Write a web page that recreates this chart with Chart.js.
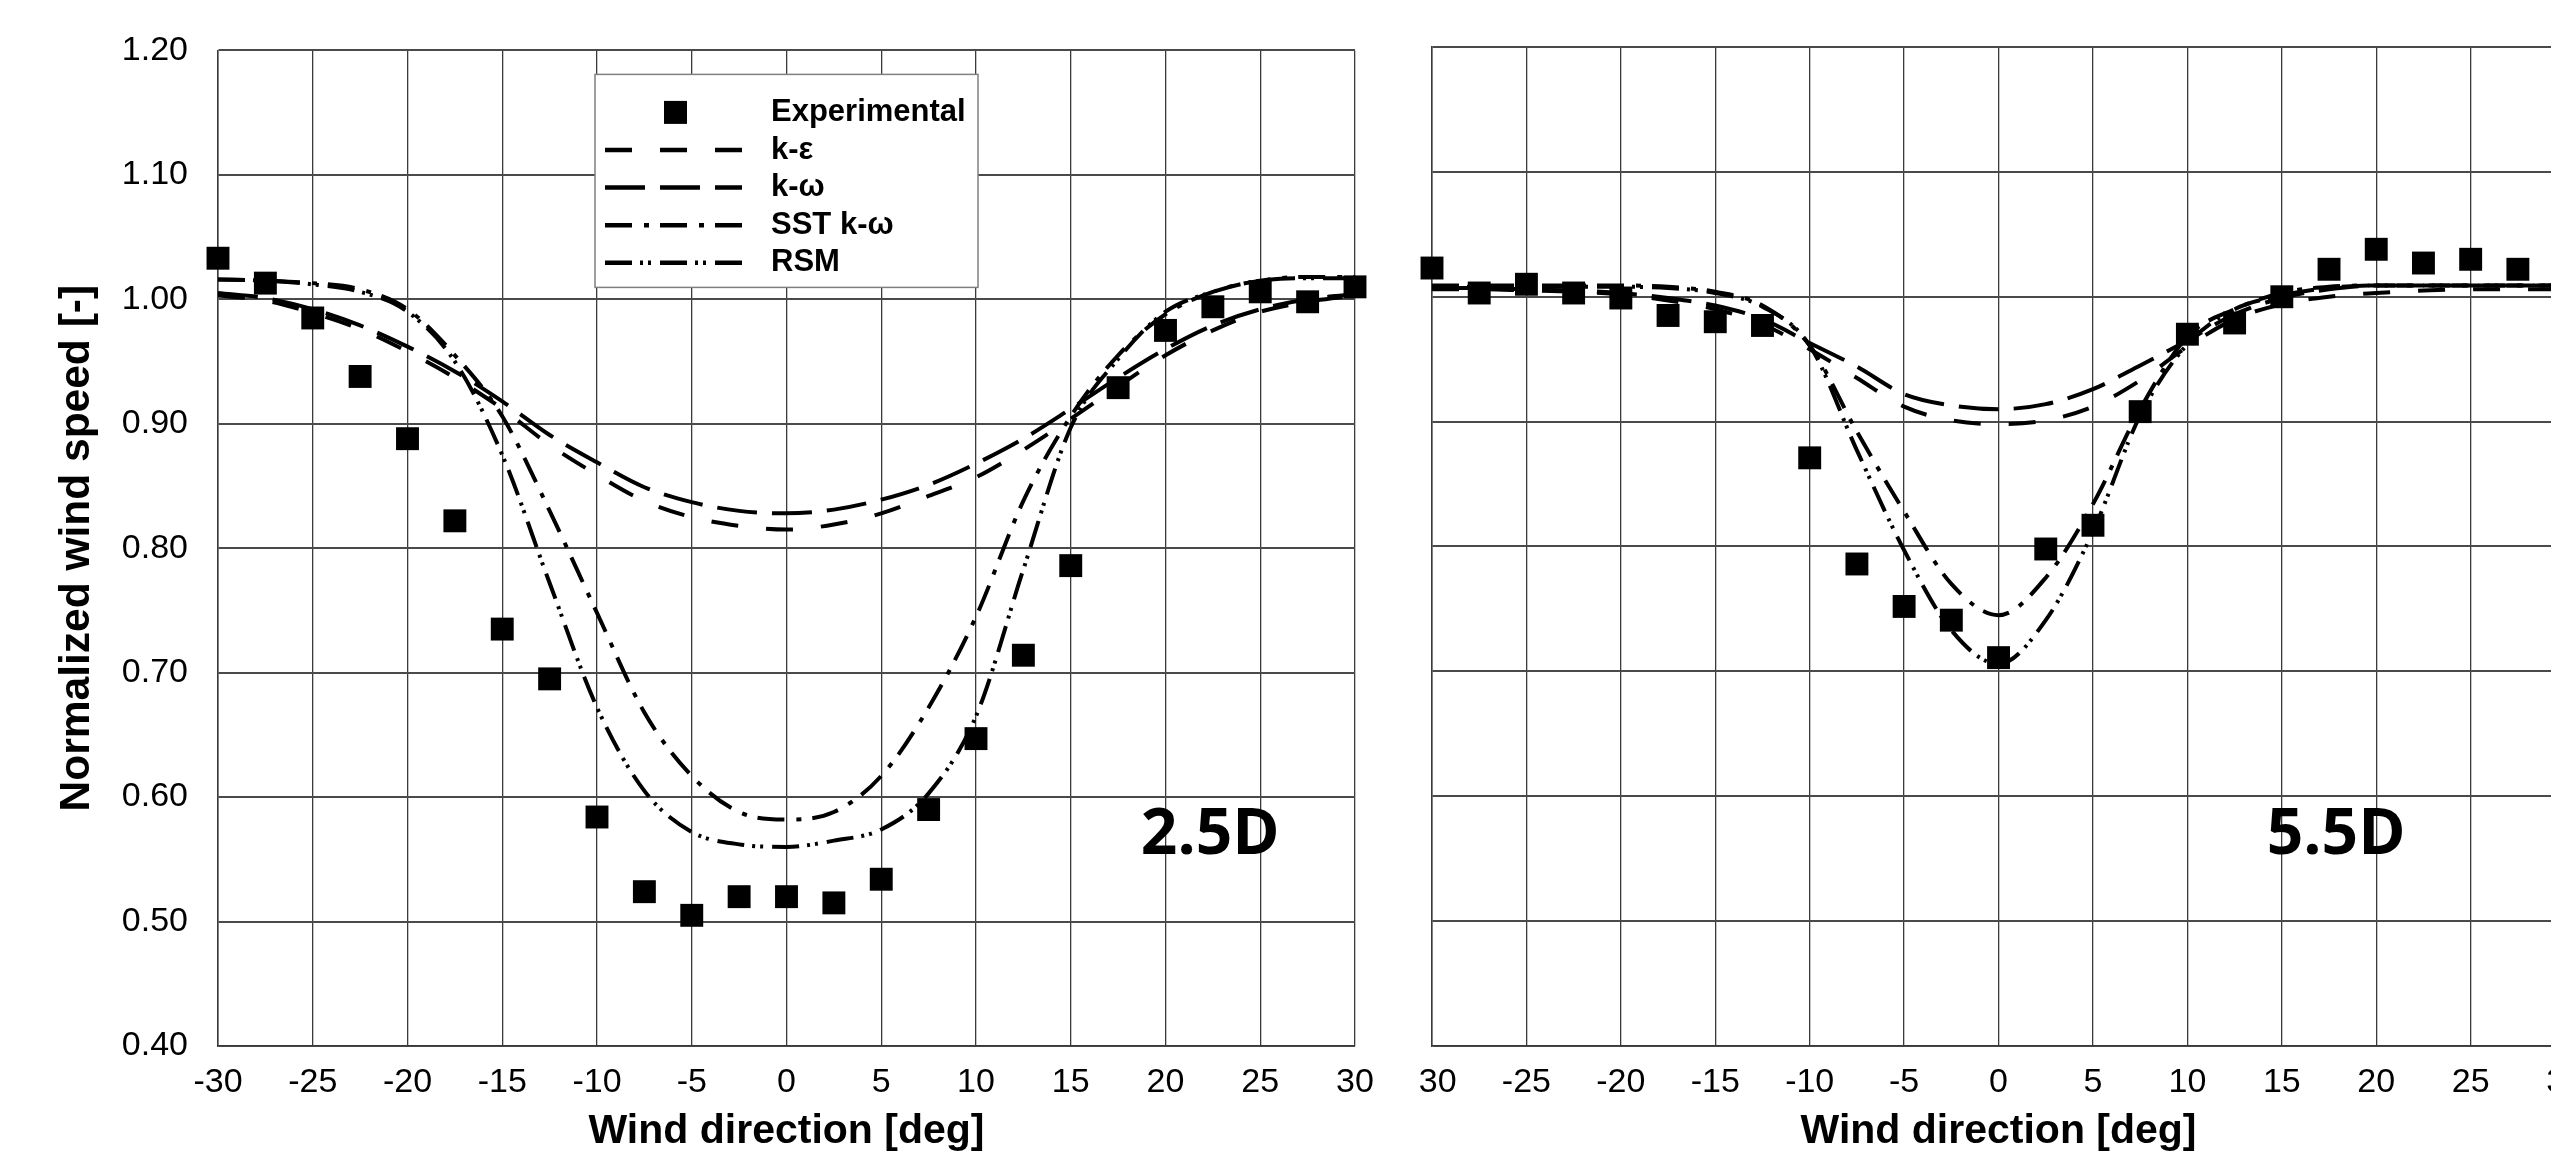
<!DOCTYPE html>
<html>
<head>
<meta charset="utf-8">
<script src="https://cdn.jsdelivr.net/npm/chart.js@4.4.0/dist/chart.umd.min.js"></script>
<style>
  html, body { margin: 0; padding: 0; background: #fff; overflow: hidden; }
  #wrap { position: relative; width: 2551px; height: 1156px; overflow: hidden; }
  #chartRight { position: absolute; left: 1300px; top: 0; }
  #chartLeft { position: absolute; left: 0; top: 0; z-index: 2; }
</style>
</head>
<body>
<div id="wrap">
  <canvas id="chartRight" width="1300" height="1156"></canvas>
  <canvas id="chartLeft" width="1419" height="1156"></canvas>
</div>
<script>
// wind direction [deg]
const angles = [-30, -27.5, -25, -22.5, -20, -17.5, -15, -12.5, -10, -7.5, -5, -2.5, 0,
                2.5, 5, 7.5, 10, 12.5, 15, 17.5, 20, 22.5, 25, 27.5, 30];
const xTicks = [-30, -25, -20, -15, -10, -5, 0, 5, 10, 15, 20, 25, 30];
const yTicks = [0.4, 0.5, 0.6, 0.7, 0.8, 0.9, 1.0, 1.1, 1.2];

// 2.5D downstream
const exp25    = [1.033, 1.013, 0.985, 0.938, 0.888, 0.822, 0.735, 0.695, 0.584, 0.524, 0.505, 0.520, 0.520,
                  0.515, 0.534, 0.590, 0.647, 0.714, 0.786, 0.929, 0.975, 0.994, 1.006, 0.998, 1.010];
const kEps25   = [1.003, 0.999, 0.989, 0.976, 0.958, 0.937, 0.912, 0.883, 0.859, 0.838, 0.825, 0.818, 0.815,
                  0.819, 0.828, 0.842, 0.857, 0.879, 0.904, 0.930, 0.955, 0.975, 0.990, 0.998, 1.003];
const kOmega25 = [1.005, 1.001, 0.992, 0.979, 0.962, 0.942, 0.918, 0.891, 0.869, 0.849, 0.837, 0.830, 0.828,
                  0.831, 0.839, 0.851, 0.868, 0.888, 0.912, 0.937, 0.960, 0.979, 0.992, 1.000, 1.004];
const sst25    = [1.016, 1.015, 1.013, 1.008, 0.992, 0.955, 0.906, 0.830, 0.748, 0.668, 0.617, 0.588, 0.582,
                  0.588, 0.617, 0.672, 0.745, 0.838, 0.906, 0.955, 0.988, 1.006, 1.015, 1.018, 1.018];
const rsm25    = [1.016, 1.015, 1.012, 1.006, 0.990, 0.950, 0.875, 0.772, 0.672, 0.605, 0.572, 0.562, 0.560,
                  0.565, 0.574, 0.603, 0.665, 0.783, 0.897, 0.952, 0.990, 1.006, 1.015, 1.017, 1.017];

// 5.5D downstream
const exp55    = [1.023, 1.003, 1.010, 1.003, 0.999, 0.985, 0.980, 0.977, 0.871, 0.786, 0.752, 0.741, 0.711,
                  0.798, 0.817, 0.908, 0.970, 0.979, 1.000, 1.022, 1.038, 1.027, 1.030, 1.022, null];
const kEps55   = [1.006, 1.006, 1.005, 1.004, 1.002, 0.997, 0.990, 0.978, 0.958, 0.935, 0.912, 0.901, 0.898,
                  0.901, 0.912, 0.933, 0.960, 0.982, 0.994, 1.000, 1.003, 1.005, 1.006, 1.006, 1.006];
const kOmega55 = [1.007, 1.007, 1.006, 1.005, 1.003, 0.999, 0.993, 0.982, 0.963, 0.944, 0.922, 0.913, 0.910,
                  0.914, 0.926, 0.945, 0.965, 0.986, 0.999, 1.006, 1.009, 1.009, 1.009, 1.009, 1.009];
const sst55    = [1.009, 1.009, 1.009, 1.009, 1.009, 1.008, 1.004, 0.993, 0.961, 0.892, 0.828, 0.770, 0.745,
                  0.775, 0.834, 0.910, 0.968, 0.990, 1.003, 1.008, 1.009, 1.009, 1.009, 1.009, 1.009];
const rsm55    = [1.008, 1.008, 1.008, 1.008, 1.008, 1.007, 1.003, 0.992, 0.961, 0.877, 0.797, 0.733, 0.706,
                  0.741, 0.812, 0.905, 0.962, 0.990, 1.001, 1.007, 1.009, 1.009, 1.009, 1.009, 1.009];

const FONT = '"Liberation Sans", Arial, sans-serif';

function toPoints(arr) {
    return angles.map((a, i) => ({ x: a, y: arr[i] })).filter(p => p.y !== null);
}

function curve(label, arr, dash) {
    return {
        label: label,
        data: toPoints(arr),
        showLine: true,
        borderColor: '#000',
        borderWidth: 4,
        borderDash: dash,
        pointRadius: 0,
        cubicInterpolationMode: 'monotone',
        fill: false
    };
}

function buildDatasets(exp, kEps, kOmega, sst, rsm) {
    return [
        {
            label: 'Experimental',
            data: toPoints(exp),
            showLine: false,
            pointStyle: 'rect',
            pointRadius: 16.2,
            backgroundColor: '#000',
            borderWidth: 0,
            clip: false
        },
        curve('k-ε', kEps, [27, 28]),
        curve('k-ω', kOmega, [40, 15]),
        curve('SST k-ω', sst, [27, 12, 5, 11]),
        curve('RSM', rsm, [27, 8, 3, 5, 3, 9])
    ];
}

// white page behind each canvas
const whiteBg = {
    id: 'whiteBg',
    beforeDraw(chart) {
        const ctx = chart.ctx;
        ctx.save();
        ctx.fillStyle = '#fff';
        ctx.fillRect(0, 0, chart.width, chart.height);
        ctx.restore();
    }
};

// distance label like "2.5D", placed in data units
const caseLabel = {
    id: 'caseLabel',
    afterDatasetsDraw(chart, args, opts) {
        const { ctx, scales } = chart;
        ctx.save();
        ctx.fillStyle = '#000';
        ctx.font = 'bold 64px "Open Sans", sans-serif';
        ctx.textBaseline = 'alphabetic';
        ctx.fillText(opts.text, scales.x.getPixelForValue(opts.x), scales.y.getPixelForValue(opts.y));
        ctx.restore();
    }
};

// boxed legend inside the plot
const legendBox = {
    id: 'legendBox',
    afterDatasetsDraw(chart) {
        const { ctx, chartArea } = chart;
        const x0 = chartArea.left + 377, y0 = chartArea.top + 24, w = 383, h = 213;
        ctx.save();
        ctx.fillStyle = '#fff';
        ctx.fillRect(x0, y0, w, h);
        ctx.strokeStyle = '#808080';
        ctx.lineWidth = 1.5;
        ctx.strokeRect(x0, y0, w, h);
        chart.data.datasets.forEach((ds, i) => {
            const cy = y0 + 38 + i * 37.6;
            if (ds.showLine) {
                ctx.setLineDash(ds.borderDash);
                ctx.lineWidth = 4.5;
                ctx.strokeStyle = '#000';
                ctx.beginPath();
                ctx.moveTo(x0 + 10, cy);
                ctx.lineTo(x0 + 147, cy);
                ctx.stroke();
                ctx.setLineDash([]);
            } else {
                ctx.fillStyle = '#000';
                ctx.fillRect(x0 + 69, cy - 11.5, 23, 23);
            }
            ctx.fillStyle = '#000';
            ctx.font = 'bold 31px ' + FONT;
            ctx.textBaseline = 'middle';
            ctx.textAlign = 'left';
            ctx.fillText(ds.label, x0 + 176, cy);
        });
        ctx.restore();
    }
};

function makeScales(showY) {
    return {
        x: {
            type: 'linear',
            min: -30,
            max: 30,
            afterBuildTicks: s => { s.ticks = xTicks.map(v => ({ value: v })); },
            afterFit: s => { s.height = 110; },
            grid: { color: '#3a3a3a', lineWidth: 1.3, drawTicks: false },
            border: { color: '#3a3a3a', width: 1.3 },
            ticks: {
                padding: 16,
                color: '#000',
                maxRotation: 0,
                autoSkip: false,
                font: { family: FONT, size: 34 },
                callback: v => String(v)
            },
            title: {
                display: true,
                text: 'Wind direction [deg]',
                color: '#000',
                font: { family: FONT, size: 41, weight: 'bold' },
                padding: { top: 0, bottom: 0 }
            }
        },
        y: {
            type: 'linear',
            min: 0.4,
            max: 1.2,
            afterBuildTicks: s => { s.ticks = yTicks.map(v => ({ value: v })); },
            afterFit: s => { s.width = showY ? 218 : 132; },
            grid: { color: '#4a4a4a', lineWidth: 2, drawTicks: false },
            border: { color: '#3a3a3a', width: 1.5 },
            ticks: {
                display: showY,
                padding: 30,
                color: '#000',
                font: { family: FONT, size: 34 },
                callback: v => v.toFixed(2)
            },
            title: {
                display: showY,
                text: 'Normalized wind speed [-]',
                color: '#000',
                font: { family: FONT, size: 42.5, weight: 'bold' },
                padding: { top: 52, bottom: 0 }
            }
        }
    };
}

function drawPanel(canvasId, datasets, label, showY, padRight, extraPlugins) {
    const ctx = document.getElementById(canvasId).getContext('2d');
    return new Chart(ctx, {
        type: 'scatter',
        data: { datasets: datasets },
        options: {
            responsive: false,
            animation: false,
            devicePixelRatio: 1,
            layout: { padding: { top: 47, right: padRight, bottom: 0, left: 0 } },
            scales: makeScales(showY),
            plugins: {
                legend: { display: false },
                tooltip: { enabled: false },
                caseLabel: label
            }
        },
        plugins: [whiteBg, caseLabel].concat(extraPlugins)
    });
}

drawPanel('chartRight', buildDatasets(exp55, kEps55, kOmega55, sst55, rsm55),
          { text: '5.5D', x: 14.2, y: 0.554 }, false, 32, []);
drawPanel('chartLeft', buildDatasets(exp25, kEps25, kOmega25, sst25, rsm25),
          { text: '2.5D', x: 18.7, y: 0.554 }, true, 64, [legendBox]);
</script>
</body>
</html>
